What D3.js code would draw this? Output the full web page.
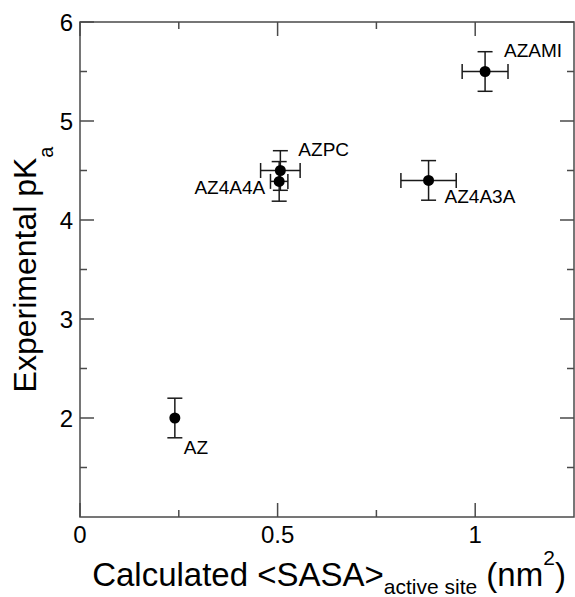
<!DOCTYPE html>
<html>
<head>
<meta charset="utf-8">
<script src="https://cdn.jsdelivr.net/npm/d3@7"></script>
<style>
  body { margin: 0; background: #fff; }
  svg { display: block; }
  text { font-family: "Liberation Sans", Arial, Helvetica, sans-serif; fill: #000; }
</style>
</head>
<body>
<div id="chart"></div>
<script>
// protein variants and their values
const names = ["AZ", "AZ4A4A", "AZPC", "AZ4A3A", "AZAMI"];
const sasa = [0.24, 0.504, 0.507, 0.882, 1.025];
const sasaErr = [0.005, 0.022, 0.05, 0.07, 0.058];
const pka = [2.0, 4.39, 4.5, 4.4, 5.5];
const pkaErr = [0.2, 0.2, 0.2, 0.2, 0.2];
// label offsets from the point, in px, and anchor
const labelDx = [9, -14, 18, 16, 19];
const labelDy = [36, 13, -15, 23, -15];
const labelAnchor = ["start", "end", "start", "start", "start"];

const xMajor = [0, 0.5, 1];
const xMinor = [0.25, 0.75];
const yMajor = [2, 3, 4, 5, 6];
const yMinor = [1.5, 2.5, 3.5, 4.5, 5.5];

let width = 575, height = 597;
let mLeft = 80, mRight = 574, mTop = 22, mBottom = 517;

let svg = d3.select("#chart").append("svg")
    .attr("width", width)
    .attr("height", height);

let xScale = d3.scaleLinear().domain([0, 1.25]).range([mLeft, mRight]);
let yScale = d3.scaleLinear().domain([1, 6]).range([mBottom, mTop]);

let axisColor = "#4a4a4a";

// frame
svg.append("rect")
    .attr("x", mLeft).attr("y", mTop)
    .attr("width", mRight - mLeft).attr("height", mBottom - mTop)
    .attr("fill", "none").attr("stroke", axisColor).attr("stroke-width", 1.5);

// ticks on all four sides, pointing inward
function drawXTicks(values, len) {
    values.forEach(v => {
        let x = xScale(v);
        svg.append("line").attr("x1", x).attr("x2", x).attr("y1", mBottom).attr("y2", mBottom - len)
            .attr("stroke", axisColor).attr("stroke-width", 1.5);
        svg.append("line").attr("x1", x).attr("x2", x).attr("y1", mTop).attr("y2", mTop + len)
            .attr("stroke", axisColor).attr("stroke-width", 1.5);
    });
}
function drawYTicks(values, len) {
    values.forEach(v => {
        let y = yScale(v);
        svg.append("line").attr("x1", mLeft).attr("x2", mLeft + len).attr("y1", y).attr("y2", y)
            .attr("stroke", axisColor).attr("stroke-width", 1.5);
        svg.append("line").attr("x1", mRight).attr("x2", mRight - len).attr("y1", y).attr("y2", y)
            .attr("stroke", axisColor).attr("stroke-width", 1.5);
    });
}
drawXTicks(xMajor, 14);
drawXTicks(xMinor, 7);
drawYTicks(yMajor, 14);
drawYTicks(yMinor, 7);

// tick labels
svg.selectAll(".xlab").data(xMajor).enter().append("text")
    .attr("x", d => xScale(d))
    .attr("y", 543)
    .attr("text-anchor", "middle")
    .style("font-size", "24px")
    .text(d => d);

svg.selectAll(".ylab").data(yMajor).enter().append("text")
    .attr("x", 73)
    .attr("y", d => yScale(d) + 8.5)
    .attr("text-anchor", "end")
    .style("font-size", "24px")
    .text(d => d);

// axis titles
let xt = svg.append("text")
    .attr("x", 329)
    .attr("y", 586)
    .attr("text-anchor", "middle")
    .style("font-size", "33px");
xt.append("tspan").text("Calculated <SASA>");
xt.append("tspan").attr("dy", 8).style("font-size", "21px").text("active site");
xt.append("tspan").attr("dy", -8).text(" (nm");
xt.append("tspan").attr("dy", -21).style("font-size", "21px").text("2");
xt.append("tspan").attr("dy", 21).text(")");

let yt = svg.append("text")
    .attr("transform", "translate(36," + ((mTop + mBottom) / 2) + ") rotate(-90)")
    .attr("text-anchor", "middle")
    .style("font-size", "32px");
yt.append("tspan").text("Experimental pK");
yt.append("tspan").attr("dy", 17).style("font-size", "20px").text("a");

// error bars
let pts = names.map((n, i) => ({name: n, x: sasa[i], xe: sasaErr[i], y: pka[i], ye: pkaErr[i], i: i}));
let cap = 7.5;
let eb = svg.append("g").attr("stroke", "#1a1a1a").attr("stroke-width", 1.5);

pts.forEach(d => {
    let cx = xScale(d.x), cy = yScale(d.y);
    let x0 = xScale(d.x - d.xe), x1 = xScale(d.x + d.xe);
    let y0 = yScale(d.y - d.ye), y1 = yScale(d.y + d.ye);
    eb.append("line").attr("x1", cx).attr("x2", cx).attr("y1", y0).attr("y2", y1);
    eb.append("line").attr("x1", cx - cap).attr("x2", cx + cap).attr("y1", y0).attr("y2", y0);
    eb.append("line").attr("x1", cx - cap).attr("x2", cx + cap).attr("y1", y1).attr("y2", y1);
    if (x1 - x0 > 6) {
        eb.append("line").attr("x1", x0).attr("x2", x1).attr("y1", cy).attr("y2", cy);
        eb.append("line").attr("x1", x0).attr("x2", x0).attr("y1", cy - cap).attr("y2", cy + cap);
        eb.append("line").attr("x1", x1).attr("x2", x1).attr("y1", cy - cap).attr("y2", cy + cap);
    }
});

// points
svg.selectAll(".pt").data(pts).enter().append("circle")
    .attr("cx", d => xScale(d.x))
    .attr("cy", d => yScale(d.y))
    .attr("r", 5.5)
    .attr("fill", "#000");

// labels
svg.selectAll(".lbl").data(pts).enter().append("text")
    .attr("x", d => xScale(d.x) + labelDx[d.i])
    .attr("y", d => yScale(d.y) + labelDy[d.i])
    .attr("text-anchor", d => labelAnchor[d.i])
    .style("font-size", "19px")
    .text(d => d.name);
</script>
</body>
</html>
